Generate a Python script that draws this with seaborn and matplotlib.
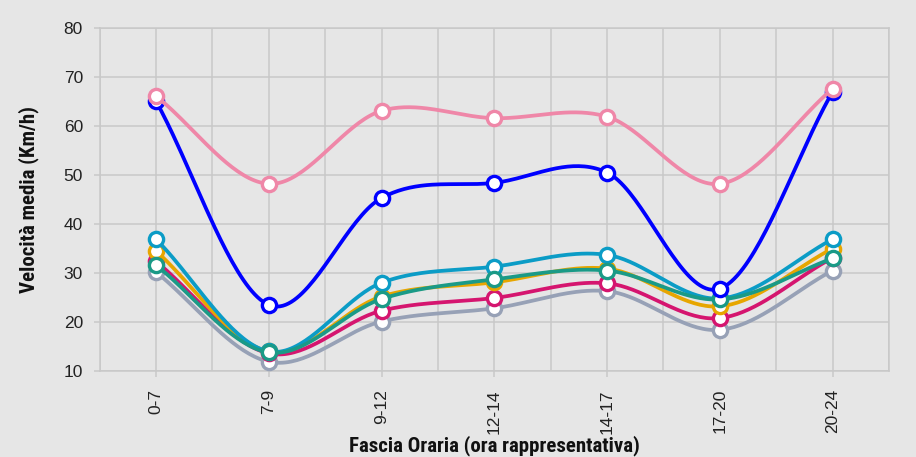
import numpy as np
import pandas as pd
import seaborn as sns
import matplotlib.pyplot as plt

# ---- data ----
fasce = ['0-7', '7-9', '9-12', '12-14', '14-17', '17-20', '20-24']
serie_grigia = [30.2, 11.9, 20.1, 22.8, 26.3, 18.4, 30.5]
serie_magenta = [32.4, 13.6, 22.3, 24.9, 27.9, 20.8, 33.1]
serie_arancio = [34.5, 14.0, 25.2, 28.1, 30.9, 23.2, 35.0]
serie_azzurra = [36.9, 14.0, 28.0, 31.3, 33.7, 24.8, 36.9]
serie_verde = [31.6, 13.8, 24.7, 28.7, 30.5, 24.6, 33.0]
serie_blu = [65.1, 23.5, 45.3, 48.4, 50.5, 26.8, 67.0]
serie_rosa = [66.1, 48.2, 63.1, 61.6, 61.9, 48.2, 67.6]
y_ticks = [10, 20, 30, 40, 50, 60, 70, 80]

series = [
    (serie_grigia, '#97a1b6'),
    (serie_magenta, '#d5156f'),
    (serie_arancio, '#e7a600'),
    (serie_azzurra, '#0b9cc6'),
    (serie_verde, '#1a9a87'),
    (serie_blu, '#0000ff'),
    (serie_rosa, '#ef87a8'),
]


def smooth(vals, n=40):
    """Catmull-Rom (cardinal) spline through the points, for drawing."""
    p = np.asarray(vals, float)
    k = len(p)
    m = np.zeros(k)
    m[0] = p[1] - p[0]
    m[-1] = p[-1] - p[-2]
    m[1:-1] = (p[2:] - p[:-2]) / 2.0
    xs, ys = [], []
    for i in range(k - 1):
        t = np.linspace(0, 1, n, endpoint=(i == k - 2))
        h00 = 2 * t**3 - 3 * t**2 + 1
        h10 = t**3 - 2 * t**2 + t
        h01 = -2 * t**3 + 3 * t**2
        h11 = t**3 - t**2
        ys.append(h00 * p[i] + h10 * m[i] + h01 * p[i + 1] + h11 * m[i + 1])
        xs.append(i + t)
    return np.concatenate(xs), np.concatenate(ys)


bg = '#e6e6e6'
gridc = '#c8c8c8'

fig = plt.figure(figsize=(9.16, 4.57), dpi=100, facecolor=bg)
ax = fig.add_axes([0.1087, 0.1882, 0.8618, 0.7505])
ax.set_facecolor(bg)

xpos = np.arange(len(fasce))
z = 3
for vals, col in series:
    sx, sy = smooth(vals)
    df = pd.DataFrame({'x': sx, 'y': sy})
    sns.lineplot(data=df, x='x', y='y', color=col, lw=2.7, sort=False,
                 estimator=None, ax=ax, zorder=z)
    sns.scatterplot(x=xpos, y=vals, s=105, color='white', edgecolor=col,
                    linewidth=2.4, ax=ax, zorder=z + 0.5, legend=False)
    z += 1

ax.set_xlim(-0.5, len(fasce) - 0.5)
ax.set_ylim(10, 80)
ax.set_xticks(xpos)
ax.set_xticklabels(fasce, rotation=90)
ax.set_xticks(np.arange(-0.5, len(fasce), 1.0), minor=True)
ax.set_yticks(y_ticks)

ax.grid(True, which='major', color=gridc, lw=1.1, zorder=0)
ax.grid(True, which='minor', axis='x', color=gridc, lw=1.1, zorder=0)
ax.set_axisbelow(True)
for s in ax.spines.values():
    s.set_color(gridc)
    s.set_linewidth(1.1)

tick_font = ['Liberation Sans', 'DejaVu Sans']
ax.tick_params(axis='both', which='major', colors='#222222', labelsize=12.5,
               length=4, width=1.1)
ax.tick_params(axis='x', which='major', color=gridc, pad=9)
ax.tick_params(axis='y', which='major', color=gridc, pad=8)
ax.tick_params(axis='x', which='minor', length=0)
for lab in ax.get_xticklabels() + ax.get_yticklabels():
    lab.set_family(tick_font)

label_font = ['Liberation Sans Narrow', 'Roboto Condensed', 'Liberation Sans', 'DejaVu Sans']
ax.set_xlabel('Fascia Oraria (ora rappresentativa)', family=label_font,
              fontweight='bold', fontsize=15, color='#111111', labelpad=1)
ax.set_ylabel('Velocità media (Km/h)', family=label_font,
              fontweight='bold', fontsize=15, color='#111111', labelpad=18)

fig.savefig('out.png', dpi=100, facecolor=bg)
